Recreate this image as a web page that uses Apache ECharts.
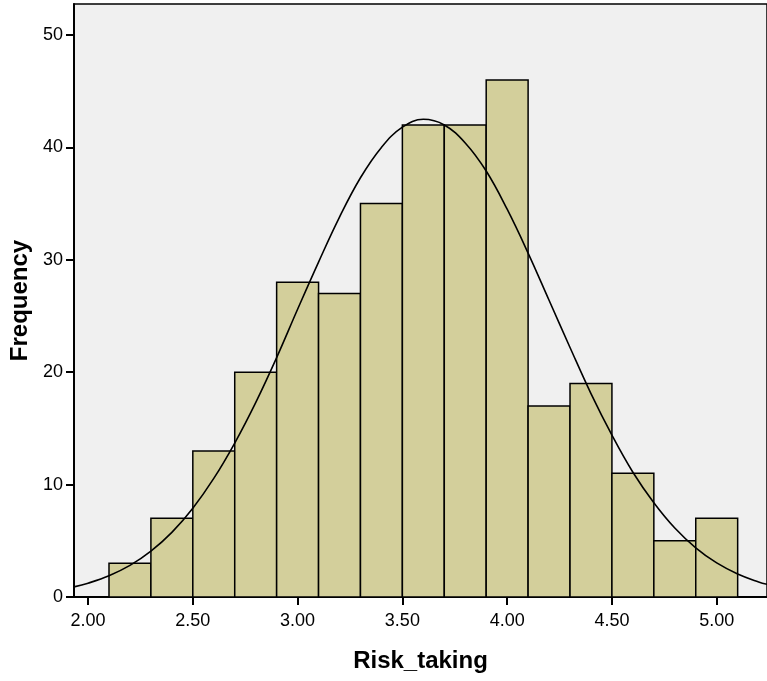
<!DOCTYPE html>
<html>
<head>
<meta charset="utf-8">
<script src="https://cdn.jsdelivr.net/npm/echarts@6/dist/echarts.min.js"></script>
<style>
  html, body { margin: 0; padding: 0; background: #fff; }
  #chart { width: 767px; height: 681px; }
</style>
</head>
<body>
<div id="chart"></div>
<script>
// histogram bins (start of each bin, width 0.2) and counts
var binStart = [2.1, 2.3, 2.5, 2.7, 2.9, 3.1, 3.3, 3.5, 3.7, 3.9, 4.1, 4.3, 4.5, 4.7, 4.9];
var counts   = [3, 7, 13, 20, 28, 27, 35, 42, 42, 46, 17, 19, 11, 5, 7];
var binWidth = 0.2;

// normal curve
var curveX = [1.933, 2.0, 2.1, 2.2, 2.3, 2.4, 2.5, 2.6, 2.7, 2.8, 2.9, 3.0, 3.1, 3.2, 3.3, 3.4, 3.5, 3.6,
              3.7, 3.8, 3.9, 4.0, 4.1, 4.2, 4.3, 4.4, 4.5, 4.6, 4.7, 4.8, 4.9, 5.0, 5.1, 5.2, 5.24];
var curveY = [0.90, 1.23, 1.89, 2.81, 4.08, 5.75, 7.90, 10.55, 13.7, 17.3, 21.3, 25.6, 29.8, 33.8, 37.3, 40.0, 41.8, 42.5,
              42.0, 40.4, 37.9, 34.5, 30.6, 26.4, 22.2, 18.1, 14.4, 11.1, 8.39, 6.14, 4.38, 3.03, 2.05, 1.34, 1.13];

var xTicks = [2.0, 2.5, 3.0, 3.5, 4.0, 4.5, 5.0];
var yTicks = [0, 10, 20, 30, 40, 50];

var chart = echarts.init(document.getElementById('chart'));

var barData = binStart.map(function (s, i) { return [s, s + binWidth, counts[i]]; });
var lineData = curveX.map(function (x, i) { return [x, curveY[i]]; });

var font = 'Liberation Sans, Arial, sans-serif';

chart.setOption({
  animation: false,
  grid: {
    left: 74, top: 4, right: 0, bottom: 84,
    outerBoundsMode: 'none', containLabel: false,
    show: true, backgroundColor: '#f0f0f0', borderColor: '#000', borderWidth: 1.5
  },
  xAxis: {
    type: 'value', min: 1.933, max: 5.24,
    name: 'Risk_taking', nameLocation: 'middle', nameGap: 52,
    nameTextStyle: { fontFamily: font, fontSize: 24, fontWeight: 'bold', color: '#000' },
    axisLine: { show: true, onZero: false, lineStyle: { color: '#000', width: 2 } },
    axisTick: { show: true, length: 8, customValues: xTicks, lineStyle: { color: '#000', width: 2 } },
    axisLabel: {
      customValues: xTicks, margin: 15, fontFamily: font, fontSize: 18, color: '#000',
      formatter: function (v) { return v.toFixed(2); }
    },
    splitLine: { show: false }
  },
  yAxis: {
    type: 'value', min: 0, max: 52.76,
    name: 'Frequency', nameLocation: 'middle', nameGap: 35,
    nameTextStyle: { fontFamily: font, fontSize: 24, fontWeight: 'bold', color: '#000' },
    axisLine: { show: true, lineStyle: { color: '#000', width: 2 } },
    axisTick: { show: true, length: 8, customValues: yTicks, lineStyle: { color: '#000', width: 2 } },
    axisLabel: { customValues: yTicks, margin: 11, fontFamily: font, fontSize: 18, color: '#000' },
    splitLine: { show: false }
  },
  series: [
    {
      type: 'custom',
      data: barData,
      encode: { x: [0, 1], y: 2 },
      renderItem: function (params, api) {
        var p0 = api.coord([api.value(0), api.value(2)]);
        var p1 = api.coord([api.value(1), 0]);
        return {
          type: 'rect',
          shape: { x: p0[0], y: p0[1], width: p1[0] - p0[0], height: p1[1] - p0[1] },
          style: { fill: '#d3cf9b', stroke: '#000', lineWidth: 1.5 }
        };
      },
      z: 2
    },
    {
      type: 'line',
      data: lineData,
      smooth: 0.4,
      showSymbol: false,
      lineStyle: { color: '#000', width: 1.6 },
      clip: true,
      z: 3
    }
  ]
});
</script>
</body>
</html>
